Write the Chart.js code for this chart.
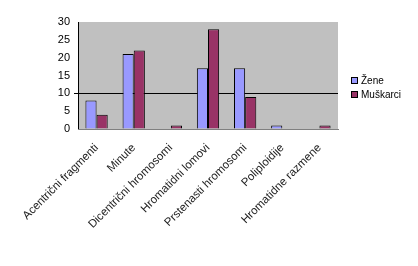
<!DOCTYPE html>
<html>
<head>
<meta charset="utf-8">
<script src="https://cdn.jsdelivr.net/npm/chart.js@4"></script>
<style>
  html, body { margin: 0; padding: 0; background: #fff; }
  #wrap { width: 418px; height: 266px; }
</style>
</head>
<body>
<div id="wrap"><canvas id="myChart" width="418" height="266"></canvas></div>
<script>
// Data
const categories = ['Acentrični fragmenti', 'Minute', 'Dicentrični hromosomi', 'Hromatidni lomovi', 'Prstenasti hromosomi', 'Poliploidije', 'Hromatidne razmene'];
const zene = [8, 21, 0, 17, 17, 1, 0];
const muskarci = [4, 22, 1, 28, 9, 0, 1];
const yTicks = [0, 5, 10, 15, 20, 25, 30];

Chart.defaults.font.family = '"Liberation Sans", Arial, sans-serif';
Chart.defaults.color = '#000';

// grey plot area
const plotBg = {
  id: 'plotBg',
  beforeDraw(chart) {
    const a = chart.chartArea;
    const c = chart.ctx;
    c.save();
    c.fillStyle = '#c0c0c0';
    c.fillRect(a.left, a.top, a.right - a.left, a.bottom - a.top);
    c.restore();
  }
};

// legend on the right
const sideLegend = {
  id: 'sideLegend',
  afterDraw(chart) {
    const c = chart.ctx;
    const x = chart.chartArea.right + 13;
    let y = 80;
    c.save();
    c.font = '10px "Liberation Sans", Arial, sans-serif';
    c.textBaseline = 'middle';
    chart.data.datasets.forEach(ds => {
      c.fillStyle = ds.backgroundColor;
      c.fillRect(x, y - 3, 7, 7);
      c.strokeStyle = '#000';
      c.lineWidth = 1;
      c.strokeRect(x + 0.5, y - 2.5, 6, 6);
      c.fillStyle = '#000';
      c.fillText(ds.label, x + 10, y + 1);
      y += 14;
    });
    c.restore();
  }
};

const ctx = document.getElementById('myChart');

new Chart(ctx, {
  type: 'bar',
  data: {
    labels: categories,
    datasets: [{
      label: 'Žene',
      data: zene,
      backgroundColor: '#9999ff',
      borderColor: '#000',
      borderWidth: 1
    }, {
      label: 'Muškarci',
      data: muskarci,
      backgroundColor: '#993366',
      borderColor: '#000',
      borderWidth: 1
    }]
  },
  options: {
    responsive: false,
    animation: false,
    layout: {
      padding: { top: 22, right: 80, left: 0, bottom: 0 }
    },
    datasets: {
      bar: { categoryPercentage: 0.6, barPercentage: 1 }
    },
    scales: {
      y: {
        min: 0,
        max: 30,
        afterBuildTicks(scale) {
          scale.ticks = yTicks.map(v => ({ value: v }));
        },
        afterFit(scale) { scale.width = 78; },
        grid: {
          color: c => (c.tick && c.tick.value === 10) ? '#000' : 'rgba(0,0,0,0)',
          tickLength: 4
        },
        border: { display: true, color: '#000' },
        ticks: { font: { size: 11 }, padding: 4 }
      },
      x: {
        afterFit(scale) { scale.height = 137; },
        grid: { display: false },
        border: { display: true, color: '#808080' },
        ticks: {
          font: { size: 11.5 },
          color: '#222',
          maxRotation: 45,
          minRotation: 45,
          autoSkip: false,
          padding: 4
        }
      }
    },
    plugins: {
      legend: { display: false },
      tooltip: { enabled: false }
    }
  },
  plugins: [plotBg, sideLegend]
});
</script>
</body>
</html>
